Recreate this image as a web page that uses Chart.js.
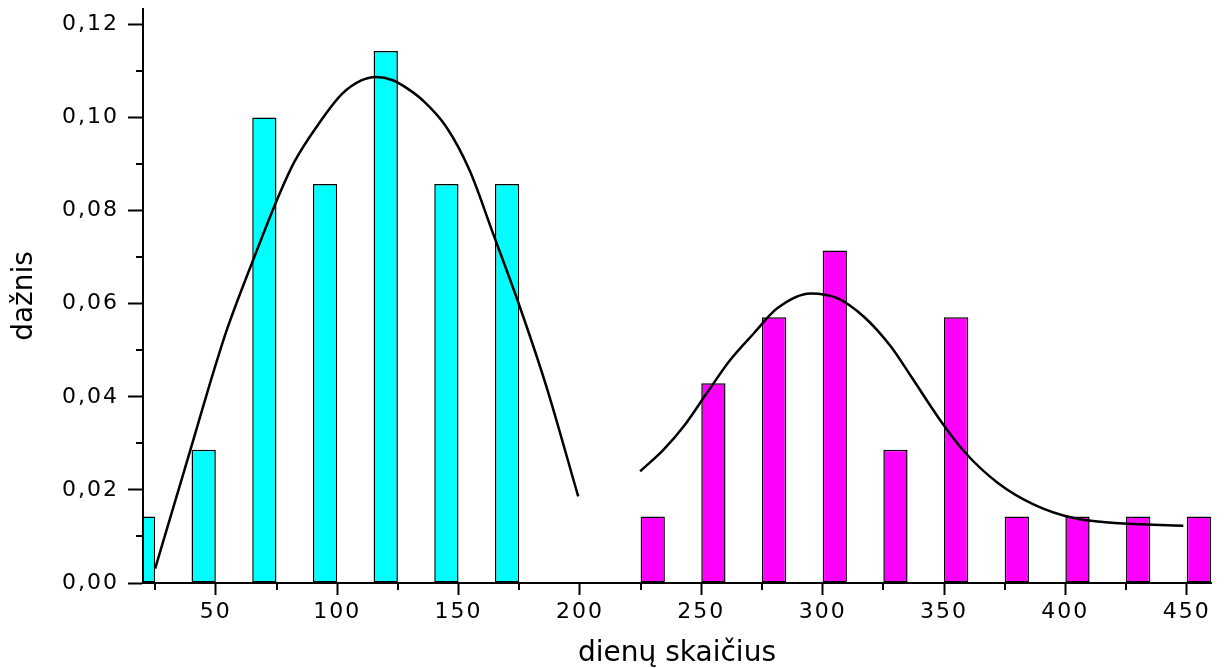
<!DOCTYPE html>
<html>
<head>
<meta charset="utf-8">
<script src="https://cdn.jsdelivr.net/npm/chart.js@4"></script>
<style>
html, body { margin: 0; padding: 0; background: #fff; }
#wrap { width: 1225px; height: 668px; }
</style>
</head>
<body>
<div id="wrap"><canvas id="canvas" width="1225" height="668"></canvas></div>
<script>
// histogram bars (bar centres on the x axis)
var daysA = [20, 45, 70, 95, 120, 145, 170];
var freqA = [0.0143, 0.0286, 0.1, 0.0857, 0.1143, 0.0857, 0.0857];
var daysB = [230, 255, 280, 305, 330, 355, 380, 405, 430, 455];
var freqB = [0.0143, 0.0429, 0.0571, 0.0714, 0.0286, 0.0571, 0.0143, 0.0143, 0.0143, 0.0143];

// fitted curves
var fitAx = [25, 33.5, 40.5, 47.5, 54.5, 65.7, 74.8, 82.4, 92.2, 101.9, 109.7, 116, 122.9, 129, 135.2, 144.9, 154.5, 164.2, 175.2, 186.2, 199.3];
var fitAy = [0.0031, 0.018, 0.0303, 0.0427, 0.0543, 0.0698, 0.0818, 0.0905, 0.0985, 0.105, 0.1079, 0.1087, 0.108, 0.1062, 0.1037, 0.098, 0.0887, 0.0751, 0.0594, 0.0422, 0.0186];
var fitBx = [224.8, 234.4, 242.7, 252.3, 261.9, 271.6, 281.3, 295, 306, 317, 328.1, 336.4, 348.8, 358.4, 372.2, 387.3, 403.8, 420.3, 448.6];
var fitBy = [0.024, 0.0286, 0.0336, 0.0408, 0.0479, 0.0536, 0.059, 0.0622, 0.0612, 0.0572, 0.0508, 0.0444, 0.0347, 0.0282, 0.0215, 0.0168, 0.0139, 0.0129, 0.0123];

// axis ticks
var xTicks = [50, 100, 150, 200, 250, 300, 350, 400, 450];
var xMinor = [25, 75, 125, 175, 225, 275, 325, 375, 425];
var yTicks = [0, 0.02, 0.04, 0.06, 0.08, 0.10, 0.12];
var yMinor = [0.01, 0.03, 0.05, 0.07, 0.09, 0.11];

var toPoints = function (xs, ys) {
    return xs.map(function (x, i) { return { x: x, y: ys[i] }; });
};

var tickFont = { family: 'DejaVu Sans', size: 22 };
var titleFont = { family: 'DejaVu Sans', size: 28, lineHeight: 1 };

/* small ticks between the labelled ones */
var minorTicks = {
    id: 'minorTicks',
    afterDatasetsDraw: function (chart) {
        // tick labels are drawn after the datasets, spaced out like the original
        chart.ctx.letterSpacing = '2px';
    },
    afterDraw: function (chart) {
        var ctx = chart.ctx, x = chart.scales.x, y = chart.scales.y;
        ctx.letterSpacing = '0px';
        ctx.save();
        ctx.strokeStyle = '#000';
        ctx.lineWidth = 2;
        ctx.beginPath();
        xMinor.forEach(function (v) {
            var px = Math.round(x.getPixelForValue(v));
            ctx.moveTo(px, x.top);
            ctx.lineTo(px, x.top + 7);
        });
        yMinor.forEach(function (v) {
            var py = Math.round(y.getPixelForValue(v));
            ctx.moveTo(y.right, py);
            ctx.lineTo(y.right - 7, py);
        });
        ctx.stroke();
        ctx.restore();
    }
};

var lineSet = function (xs, ys) {
    return {
        type: 'line',
        data: toPoints(xs, ys),
        borderColor: '#000',
        borderWidth: 2.5,
        pointRadius: 0,
        cubicInterpolationMode: 'monotone',
        fill: false,
        order: 1
    };
};

var barSet = function (xs, ys, colour) {
    return {
        type: 'bar',
        data: toPoints(xs, ys),
        backgroundColor: colour,
        borderColor: '#000',
        borderWidth: 1.5,
        borderSkipped: false,
        grouped: false,
        categoryPercentage: 0.8,
        barPercentage: 0.5,
        clip: 0,
        order: 2
    };
};

window.onload = function () {
    var ctx = document.getElementById("canvas").getContext("2d");
    window.histChart = new Chart(ctx, {
        type: 'bar',
        data: {
            datasets: [
                lineSet(fitAx, fitAy),
                lineSet(fitBx, fitBy),
                barSet(daysA, freqA, '#00FFFF'),
                barSet(daysB, freqB, '#FF00FF')
            ]
        },
        options: {
            responsive: false,
            animation: false,
            layout: { padding: { top: 9, right: 14, left: 0, bottom: 0 } },
            plugins: {
                legend: { display: false },
                tooltip: { enabled: false }
            },
            scales: {
                x: {
                    type: 'linear',
                    min: 20,
                    max: 460,
                    offset: false,
                    afterBuildTicks: function (s) {
                        s.ticks = xTicks.map(function (v) { return { value: v }; });
                    },
                    afterFit: function (s) {
                        s.height = 85;
                        s.paddingLeft = 0;
                        s.paddingRight = 0;
                    },
                    ticks: { font: tickFont, color: '#000', padding: 4, maxRotation: 0, autoSkip: false, z: 1 },
                    grid: { display: true, drawOnChartArea: false, drawTicks: true, tickLength: 12, tickWidth: 2, tickColor: '#000', offset: false },
                    border: { display: true, color: '#000', width: 2, z: 1 },
                    title: { display: true, text: 'dienų skaičius', font: titleFont, color: '#000', padding: { top: 0, bottom: 0 } }
                },
                y: {
                    min: 0,
                    max: 0.1233,
                    afterBuildTicks: function (s) {
                        s.ticks = yTicks.map(function (v) { return { value: v }; });
                    },
                    afterFit: function (s) {
                        s.width = 143;
                        s.paddingTop = 0;
                        s.paddingBottom = 0;
                    },
                    ticks: {
                        font: tickFont,
                        color: '#000',
                        padding: 9,
                        z: 1,
                        callback: function (v) { return v.toFixed(2).replace('.', ','); }
                    },
                    grid: { display: true, drawOnChartArea: false, drawTicks: true, tickLength: 15, tickWidth: 2, tickColor: '#000' },
                    border: { display: true, color: '#000', width: 2, z: 1 },
                    title: { display: true, text: 'dažnis', font: titleFont, color: '#000', padding: { top: 11, bottom: 0 } }
                }
            }
        },
        plugins: [minorTicks]
    });
};
</script>
</body>
</html>
